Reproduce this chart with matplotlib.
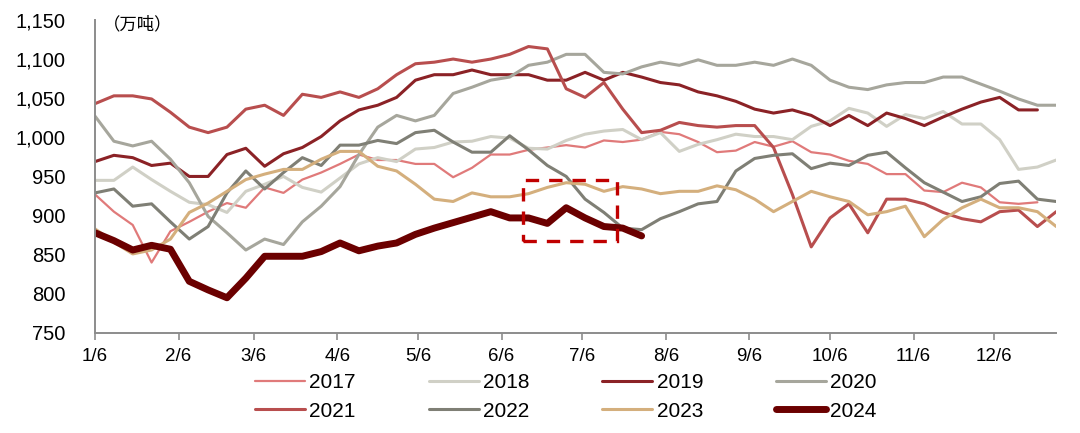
import datetime as dt
import matplotlib
matplotlib.use('Agg')
import matplotlib.pyplot as plt
from matplotlib.patches import Rectangle
from matplotlib.ticker import FuncFormatter

# weekly readings, week 0 = 1/6
y2017 = [927, 905, 888, 840, 880, 892, 905, 916, 910, 936, 929, 946, 955, 966, 978, 971, 971, 966, 966, 949,
         961, 978, 978, 984, 987, 990, 987, 996, 994, 997, 1007, 1004, 994, 981, 983, 994, 988, 995, 981, 978,
         970, 966, 953, 953, 932, 930, 942, 936, 917, 915, 917]
y2018 = [945, 945, 962, 946, 931, 917, 914, 904, 931, 940, 950, 936, 930, 948, 966, 974, 969, 985, 987, 994,
         995, 1001, 999, 986, 985, 996, 1004, 1008, 1010, 997, 1006, 982, 991, 997, 1004, 1001, 1001, 997, 1014, 1021,
         1037, 1031, 1014, 1029, 1024, 1033, 1017, 1017, 997, 959, 962, 971]
y2019 = [969, 977, 974, 964, 967, 950, 950, 978, 986, 963, 979, 987, 1001, 1021, 1035, 1041, 1051, 1073, 1080, 1080,
         1086, 1080, 1080, 1080, 1073, 1073, 1083, 1073, 1083, 1077, 1070, 1067, 1058, 1053, 1046, 1036, 1031, 1035, 1028, 1015,
         1028, 1015, 1031, 1024, 1015, 1026, 1036, 1045, 1051, 1035, 1035]
y2020 = [1027, 995, 989, 995, 972, 942, 899, 878, 856, 870, 863, 892, 912, 937, 978, 1013, 1028, 1021, 1028, 1056,
         1064, 1073, 1077, 1092, 1096, 1106, 1106, 1083, 1081, 1090, 1096, 1092, 1099, 1092, 1092, 1096, 1092, 1100, 1092, 1073,
         1064, 1061, 1067, 1070, 1070, 1077, 1077, 1068, 1059, 1049, 1041, 1041]
y2021 = [1043, 1053, 1053, 1049, 1032, 1013, 1006, 1013, 1036, 1041, 1028, 1055, 1051, 1058, 1051, 1062, 1080, 1094, 1096, 1100,
         1096, 1100, 1106, 1116, 1113, 1062, 1051, 1070, 1036, 1006, 1009, 1019, 1015, 1013, 1015, 1015, 987, 927, 860, 897,
         915, 878, 921, 921, 915, 904, 896, 892, 905, 907, 886, 905]
y2022 = [929, 934, 912, 915, 892, 870, 886, 929, 957, 934, 955, 974, 964, 990, 990, 996, 992, 1006, 1009, 994,
         981, 981, 1002, 984, 964, 950, 921, 904, 884, 882, 896, 905, 915, 918, 957, 973, 977, 979, 960, 967,
         964, 977, 981, 961, 942, 930, 918, 924, 941, 944, 921, 918]
y2023 = [883, 866, 851, 856, 870, 904, 916, 931, 946, 953, 959, 959, 972, 982, 982, 963, 957, 940, 921, 918,
         929, 924, 924, 928, 936, 942, 940, 931, 937, 934, 928, 931, 931, 938, 933, 921, 905, 918, 931, 924,
         918, 901, 905, 912, 873, 895, 910, 921, 910, 910, 905, 886]
y2024 = [878, 868, 856, 862, 857, 816, 805, 795, 820, 848, 848, 848, 854, 865, 855, 861, 865, 876, 884, 891,
         898, 905, 897, 897, 890, 910, 897, 886, 884, 874]

years = ['2017', '2018', '2019', '2020', '2021', '2022', '2023', '2024']
series = [y2017, y2018, y2019, y2020, y2021, y2022, y2023, y2024]
colors = ['#E07A7A', '#D0D0C6', '#8B2226', '#A6A69C', '#B84E4E', '#7F7F75', '#D4AF7D', '#6B0000']
widths = [1.6, 2.2, 2.2, 2.2, 2.2, 2.2, 2.2, 5.0]

tick_labels = ['%d/6' % m for m in range(1, 13)]
start = dt.date(2023, 1, 6)
tick_pos = [(dt.date(2023, m, 6) - start).days for m in range(1, 13)]

plt.rcParams['font.family'] = ['Liberation Sans', 'Noto Sans CJK SC', 'DejaVu Sans']

fig = plt.figure(figsize=(10.8, 4.33), dpi=100)
ax = fig.add_axes([0.088, 0.231, 0.890, 0.723])

handles = []
for yr, vals, c, lw in zip(years, series, colors, widths):
    days = [7 * i for i in range(len(vals))]
    h, = ax.plot(days, vals, color=c, lw=lw, label=yr, solid_capstyle='round', solid_joinstyle='round')
    handles.append(h)

# highlight box
ax.add_patch(Rectangle((159, 867), 35, 79, fill=False, ec='#C00000', lw=2.4,
                       ls=(0, (4, 3)), zorder=5))

ax.set_xlim(0, 357)
ax.set_ylim(750, 1150)
ax.set_yticks(range(750, 1151, 50))
ax.yaxis.set_major_formatter(FuncFormatter(lambda v, p: '{:,.0f}'.format(v)))
ax.set_xticks(tick_pos)
ax.set_xticklabels(tick_labels)

for s in ['top', 'right']:
    ax.spines[s].set_visible(False)
for s in ['left', 'bottom']:
    ax.spines[s].set_color('#8C8C8C')
    ax.spines[s].set_linewidth(1.4)
ax.tick_params(axis='y', length=0, pad=21, labelsize=14.5)
ax.tick_params(axis='x', length=5, width=1.2, color='#8C8C8C', pad=6, labelsize=13.5)

ax.text(0.008, 0.985, '（万吨）', transform=ax.transAxes, fontsize=12.5,
        family=['Noto Sans CJK SC', 'DejaVu Sans'], va='center', ha='left')

# row-major legend order (legend fills by column)
order = [0, 4, 1, 5, 2, 6, 3, 7]
fig.legend([handles[i] for i in order], [years[i] for i in order],
           loc='center', bbox_to_anchor=(566 / 1080, 1 - 397 / 433), ncol=4, frameon=False,
           fontsize=15, handlelength=2.4, handletextpad=0.2, columnspacing=3.5,
           labelspacing=0.45)

fig.savefig('out.png', dpi=100)
